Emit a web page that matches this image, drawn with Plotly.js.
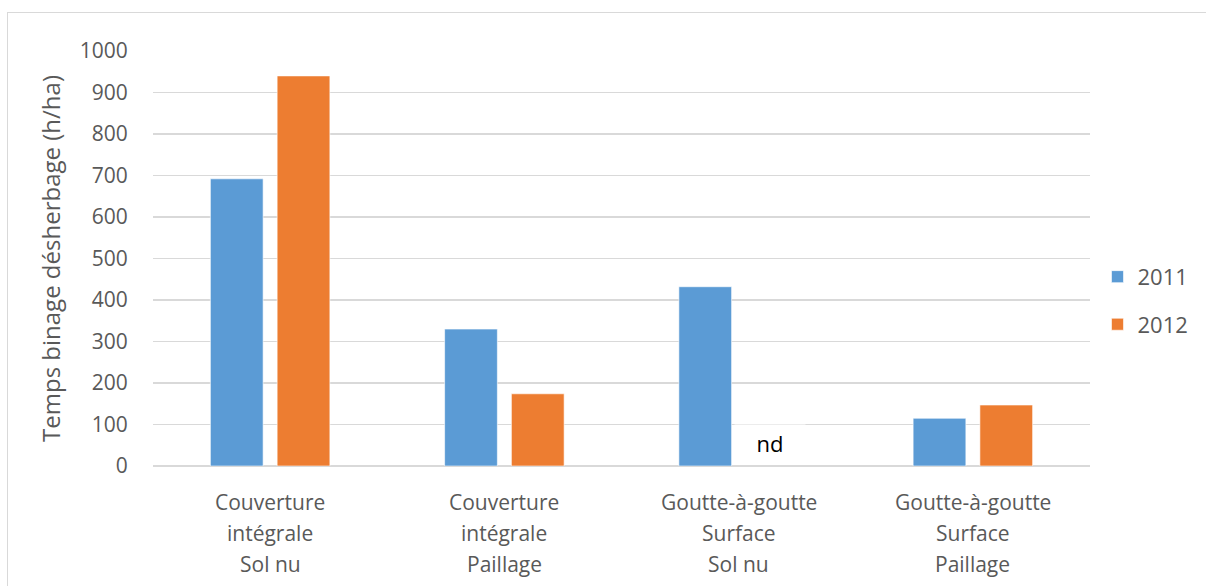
<!DOCTYPE html>
<html>
<head>
<meta charset="utf-8">
<script src="https://cdn.plot.ly/plotly-3.0.1.min.js"></script>
<style>
  html, body { margin: 0; padding: 0; background: #fff; overflow: hidden; }
  #frame { position: absolute; left: 7px; top: 12px; width: 1400px; height: 800px; border: 1.5px solid #d9d9d9; box-sizing: border-box; }
  #chart { position: absolute; left: 0; top: 0; width: 1206px; height: 586px; }
</style>
</head>
<body>
<div id="frame"></div>
<div id="chart"></div>
<script>
// Categories (each label split into its lines)
const categoryKeys = ["CI-SN", "CI-P", "GG-SN", "GG-P"];
const categoryLines = [
  ["Couverture", "intégrale", "Sol nu"],
  ["Couverture", "intégrale", "Paillage"],
  ["Goutte-à-goutte", "Surface", "Sol nu"],
  ["Goutte-à-goutte", "Surface", "Paillage"]
];
const seriesNames = ["2011", "2012"];
const values2011 = [692, 330, 432, 115];
const values2012 = [940, 174, null, 147];
const missingLabel = "nd";
const missingCategory = "GG-SN";
const yTitle = "Temps binage désherbage (h/ha)";

const FONT = "Open Sans, Noto Sans, sans-serif";
const GREY = "#595959";

const traces = [
  { type: "bar", name: seriesNames[0], x: categoryKeys, y: values2011,
    marker: { color: "#5B9BD5", line: { color: "rgba(255,255,255,0.6)", width: 1 } },
    legendgroup: "a", hoverinfo: "x+y" },
  { type: "bar", name: seriesNames[1], x: categoryKeys, y: values2012,
    marker: { color: "#ED7D31", line: { color: "rgba(255,255,255,0.6)", width: 1 } },
    legendgroup: "b", hoverinfo: "x+y" }
];

const annotations = [];
categoryKeys.forEach((k, i) => {
  categoryLines[i].forEach((line, j) => {
    annotations.push({
      x: k, y: 0, xref: "x", yref: "y", text: line, showarrow: false,
      yshift: -36 - 31 * j, yanchor: "middle",
      font: { family: FONT, size: 21, color: GREY }
    });
  });
});
annotations.push({
  x: missingCategory, y: 55, xref: "x", yref: "y", text: missingLabel, showarrow: false,
  xshift: 31, yanchor: "middle", bgcolor: "#ffffff", width: 68, height: 34,
  font: { family: FONT, size: 22, color: "#000000" }
});

const layout = {
  width: 1206, height: 586,
  margin: { l: 153, r: 116, t: 51, b: 120 },
  paper_bgcolor: "rgba(0,0,0,0)", plot_bgcolor: "rgba(0,0,0,0)",
  font: { family: FONT, color: GREY },
  barmode: "group", bargap: 0.43, bargroupgap: 0.21,
  showlegend: true,
  legend: {
    x: 1.008, xanchor: "left", y: 0.398, yanchor: "middle",
    traceorder: "grouped", tracegroupgap: 16,
    font: { family: FONT, size: 22, color: GREY },
    itemwidth: 30
  },
  xaxis: {
    type: "category", showticklabels: false, showgrid: false,
    showline: false, zeroline: false, ticks: "", fixedrange: true
  },
  yaxis: {
    range: [0, 1000], dtick: 100, tick0: 0,
    showgrid: true, gridcolor: "#d9d9d9", gridwidth: 1.5,
    zeroline: true, zerolinecolor: "#d9d9d9", zerolinewidth: 1.5,
    showline: false,
    ticks: "outside", ticklen: 20, tickcolor: "rgba(0,0,0,0)",
    tickfont: { family: FONT, size: 21, color: GREY },
    title: { text: yTitle, font: { family: FONT, size: 24, color: GREY }, standoff: 12 },
    automargin: false, fixedrange: true
  },
  annotations: annotations
};

Plotly.newPlot("chart", traces, layout, { staticPlot: true, displayModeBar: false });
</script>
</body>
</html>
